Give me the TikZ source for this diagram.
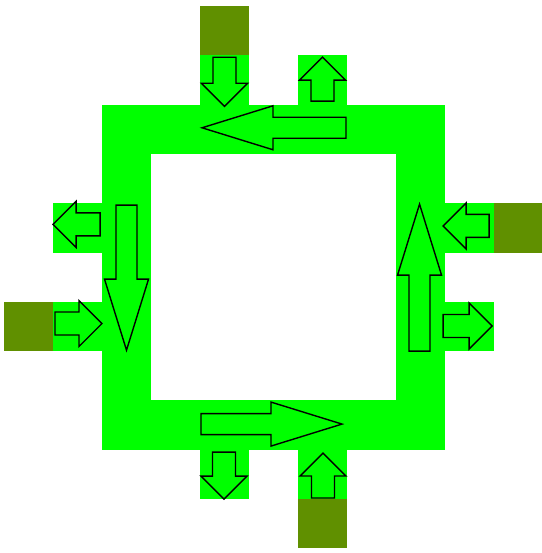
\documentclass[tikz,border=0pt]{standalone}
\usepackage{tikz}
\definecolor{ringgreen}{RGB}{0,255,0}
\definecolor{portolive}{RGB}{96,144,0}
\tikzset{
  tile/.style={fill=ringgreen},
  port/.style={fill=portolive},
  arrowline/.style={draw=black, line width=1.4pt, line join=miter}
}
% block arrow: tail, angle, length, head length, head half width, shaft half width (pt)
\newcommand{\flowarrow}[6]{%
  \draw[arrowline, shift={#1}, rotate=#2]
    (0pt,-#6pt) -- (#3pt-#4pt,-#6pt) -- (#3pt-#4pt,-#5pt) -- (#3pt,0pt)
    -- (#3pt-#4pt,#5pt) -- (#3pt-#4pt,#6pt) -- (0pt,#6pt) -- cycle;}
\begin{document}
\begin{tikzpicture}[x=49pt, y=-49.3pt]
\useasboundingbox (-0.082,-0.122) rectangle (10.959,11.095);
% ring
\fill[tile] (2,2) rectangle (9,9);
\fill[white] (3,3) rectangle (8,8);
% stubs and ports
\foreach \c/\r in {4/1, 6/1, 1/4, 1/6, 9/4, 9/6, 4/9, 6/9}
  \fill[tile] (\c,\r) rectangle ++(1,1);
\foreach \c/\r in {4/0, 0/6, 10/4, 6/10}
  \fill[port] (\c,\r) rectangle ++(1,1);
% stub arrows
\foreach \t/\a/\l in {{(4.5,1.04)}/270/49, {(6.5,1.93)}/90/44,
    {(1.96,4.43)}/180/47, {(1.04,6.44)}/0/47,
    {(9.9,4.46)}/180/46, {(8.96,6.49)}/0/49,
    {(4.49,9.05)}/270/47, {(6.51,9.98)}/90/45}
  \flowarrow{\t}{\a}{\l}{23}{23}{11.5};
% ring arrows
\foreach \t/\a/\l in {{(6.98,2.47)}/180/144, {(2.5,4.04)}/270/145,
    {(8.48,7.0)}/90/147, {(4.02,8.48)}/0/141}
  \flowarrow{\t}{\a}{\l}{71}{22}{10.5};
\end{tikzpicture}
\end{document}
